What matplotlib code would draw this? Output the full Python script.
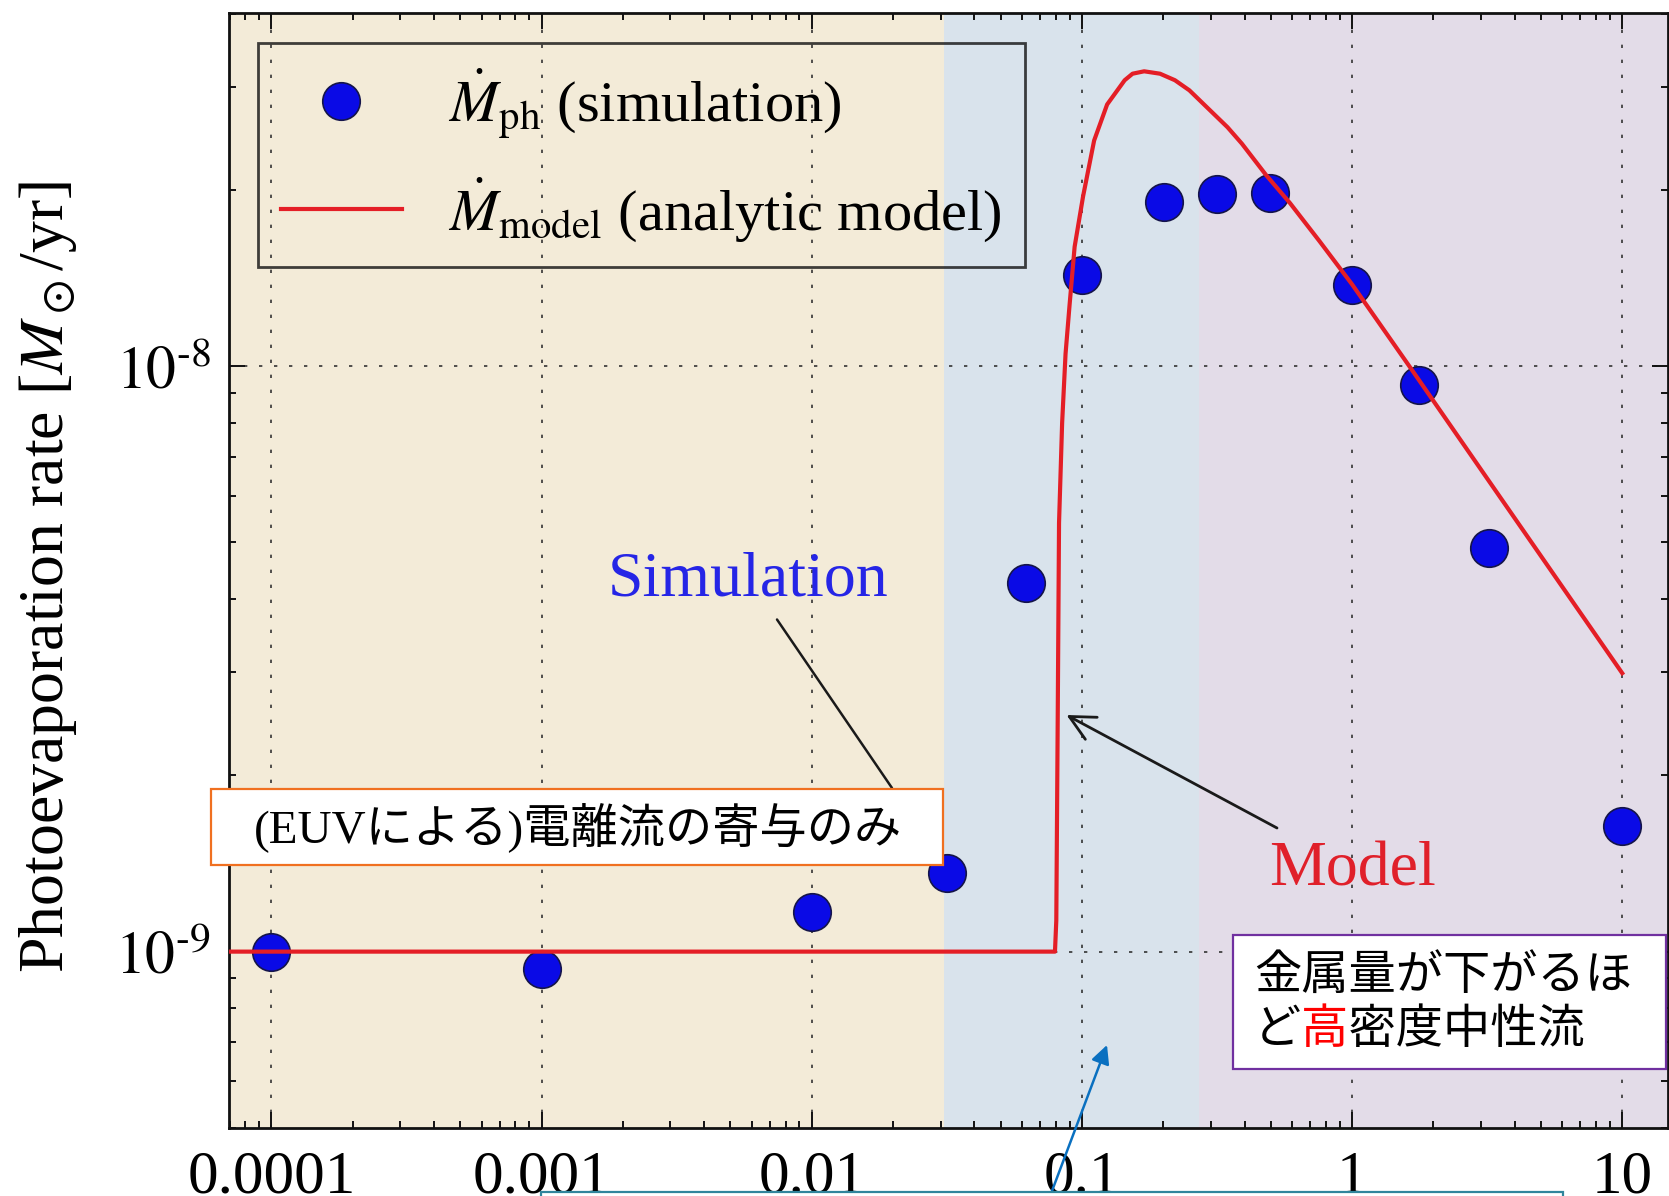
import matplotlib.pyplot as plt
from matplotlib.patches import Rectangle
from matplotlib.ticker import FixedLocator, FixedFormatter, LogLocator, NullFormatter

plt.rcParams['font.family'] = ['Liberation Serif', 'Noto Sans CJK JP']
plt.rcParams['mathtext.fontset'] = 'stix'

W, H = 1669, 1196  # размер картинки, px

# === Данные ===
sim_z = [1e-4, 1e-3, 1e-2, 0.0316, 0.0622, 0.1, 0.201, 0.317, 0.499, 1.0, 1.77, 3.22, 10.0]
sim_rate = [1.0e-9, 0.935e-9, 1.17e-9, 1.36e-9, 4.27e-9, 1.43e-8, 1.91e-8, 1.97e-8,
            1.98e-8, 1.375e-8, 9.28e-9, 4.90e-9, 1.64e-9]

model_z = [7e-5, 0.0795, 0.0804, 0.0814, 0.0823, 0.0845, 0.0870, 0.0900, 0.0940, 0.101,
           0.111, 0.124, 0.144, 0.154, 0.170, 0.1946, 0.221, 0.250, 0.290, 0.346, 0.391,
           0.481, 0.589, 0.758, 1.0, 1.68, 3.51, 10.0]
model_rate = [1.0e-9, 1.0e-9, 1.13e-9, 2.54e-9, 5.4e-9, 8.0e-9, 1.05e-8, 1.27e-8, 1.6e-8,
              1.95e-8, 2.43e-8, 2.80e-8, 3.08e-8, 3.16e-8, 3.19e-8, 3.16e-8, 3.08e-8,
              2.96e-8, 2.77e-8, 2.56e-8, 2.40e-8, 2.12e-8, 1.90e-8, 1.635e-8, 1.38e-8,
              9.8e-9, 6.0e-9, 2.99e-9]

band_edges = [0.0308, 0.2724]
band_colors = ['#F3EBD8', '#D9E3EC', '#E3DCE8']

x_ticks = [1e-4, 1e-3, 1e-2, 1e-1, 1, 10]
x_ticklabels = ['0.0001', '0.001', '0.01', '0.1', '1', '10']
y_ticks = [1e-9, 1e-8]
y_ticklabels = [r'$10^{\text{-}9}$', r'$10^{\text{-}8}$']

xlim = (10 ** -4.157, 10 ** 1.1695)
ylim = (10 ** -9.3013, 10 ** -7.3961)


def fr(x, y):
    # пиксели картинки (сверху вниз) -> доли фигуры
    return (x / W, 1 - y / H)


def P(x, y):
    # пиксели картинки -> figure pixels
    return (x, H - y)


fig = plt.figure(figsize=(W / 100, H / 100), dpi=100)
ax = fig.add_axes([229 / W, 1 - 1128 / H, (1668 - 229) / W, (1128 - 12.7) / H])
ax.set_xscale('log')
ax.set_yscale('log')
ax.set_xlim(*xlim)
ax.set_ylim(*ylim)

# Фоновые полосы
edges = [xlim[0]] + band_edges + [xlim[1]]
for i, c in enumerate(band_colors):
    ax.axvspan(edges[i], edges[i + 1], color=c, lw=0, zorder=0)

ax.plot(sim_z, sim_rate, 'o', ms=27, mfc='#0A0AE6', mec='#15154A', mew=1.2,
        zorder=3, label=r'$\dot{M}_{\rm ph}$ (simulation)')
ax.plot(model_z, model_rate, '-', color='#E41E26', lw=3, zorder=4,
        solid_joinstyle='round', label=r'$\dot{M}_{\rm model}$ (analytic model)')

# Оси и деления
ax.xaxis.set_major_locator(FixedLocator(x_ticks))
ax.xaxis.set_major_formatter(FixedFormatter(x_ticklabels))
ax.xaxis.set_minor_locator(LogLocator(base=10, subs=range(2, 10), numticks=20))
ax.xaxis.set_minor_formatter(NullFormatter())
ax.yaxis.set_major_locator(FixedLocator(y_ticks))
ax.yaxis.set_major_formatter(FixedFormatter(y_ticklabels))
ax.yaxis.set_minor_locator(LogLocator(base=10, subs=range(2, 10), numticks=20))
ax.yaxis.set_minor_formatter(NullFormatter())

ax.tick_params(which='both', direction='in', top=True, right=True, width=1.4, color='#111111')
ax.tick_params(which='major', length=11.5)
ax.tick_params(which='minor', length=5)
ax.tick_params(axis='x', labelsize=44, pad=16)
ax.tick_params(axis='y', labelsize=43, pad=13)
for s in ax.spines.values():
    s.set_linewidth(2)
    s.set_color('#111111')

ax.grid(True, which='major', linestyle=(0, (2, 7)), color='#333333', lw=1.2)

leg = ax.legend(loc='upper left', bbox_to_anchor=fr(257.6, 42.6), bbox_transform=fig.transFigure,
                borderaxespad=0, fontsize=42, numpoints=1, handlelength=2.07,
                handletextpad=0.8, labelspacing=0.6, borderpad=0.4,
                fancybox=False, facecolor='none', edgecolor='#111111')
leg.get_frame().set_linewidth(2)
leg.set_zorder(5)

fig.text(*fr(48, 577), r'Photoevaporation rate [$M_\odot$/yr]', rotation=90,
         ha='center', va='center', fontsize=46)

# Подписи и стрелки
fig.text(*fr(748, 596), 'Simulation', color='#2525E6', fontsize=46, ha='center', va='baseline')
fig.text(*fr(1352, 886), 'Model', color='#E0202A', fontsize=46, ha='center', va='baseline')

ax.annotate('', xy=P(892, 788), xytext=P(777, 619.5), xycoords='figure pixels',
            annotation_clip=False,
            arrowprops=dict(arrowstyle='-', color='#1A1A1A', lw=1.8, shrinkA=0, shrinkB=0))
ax.annotate('', xy=P(1066.5, 715), xytext=P(1277, 828), xycoords='figure pixels',
            annotation_clip=False,
            arrowprops=dict(arrowstyle='->', color='#1A1A1A', lw=2, mutation_scale=45,
                            shrinkA=0, shrinkB=0))
ax.annotate('', xy=P(1107, 1045), xytext=P(1051.6, 1192), xycoords='figure pixels',
            annotation_clip=False,
            arrowprops=dict(arrowstyle='-|>', color='#0A70C0', lw=1.8, mutation_scale=28,
                            shrinkA=0, shrinkB=0))

# Рамки с текстом
fig.add_artist(Rectangle(fr(210.8, 865.4), (943 - 210.8) / W, (865.4 - 788.7) / H,
                         transform=fig.transFigure, facecolor='white', edgecolor='#F07020', lw=1.6))
fig.text(*fr(578, 828), '(EUVによる)電離流の寄与のみ', fontsize=34, ha='center', va='center',
         family=['Liberation Serif', 'Noto Sans CJK JP'])

fig.add_artist(Rectangle(fr(1232.6, 1068.7), (1665.8 - 1232.6) / W, (1068.7 - 934.6) / H,
                         transform=fig.transFigure, facecolor='white', edgecolor='#7030A0', lw=1.6))
em = 34 * 100 / 72
fig.text(*fr(1254, 976), '金属量が下がるほ', fontsize=34, ha='left', va='center',
         family='Noto Sans CJK JP')
fig.text(*fr(1254, 1030), 'ど\u3000密度中性流', fontsize=34, ha='left', va='center',
         family='Noto Sans CJK JP')
fig.text(*fr(1254 + em, 1030), '高', fontsize=34, ha='left', va='center', color='#FF0000',
         family='Noto Sans CJK JP')

fig.add_artist(Rectangle(fr(540.7, 1215), (1562.6 - 540.7) / W, 23 / H,
                         transform=fig.transFigure, facecolor='white', edgecolor='#31859C', lw=1.6))

fig.savefig('out.png', dpi=100)
